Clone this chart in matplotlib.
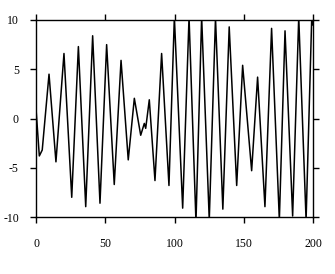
import matplotlib
matplotlib.use("Agg")
import matplotlib.pyplot as plt

# Turning points of the signal
x_vals = [0, 2.4, 4.5, 9.4, 14.4, 20.2, 25.8, 30.6, 35.9, 40.9, 46.2, 51.0, 56.5,
          61.4, 66.6, 71.0, 75.6, 78.2, 79.2, 81.8, 85.9, 90.7, 96.0, 99.9, 105.9,
          110.5, 115.5, 119.6, 125.1, 129.6, 134.9, 139.5, 144.9, 149.2, 155.7,
          160.0, 165.3, 170.1, 175.7, 179.8, 185.3, 189.7, 195.0, 199.1, 200]
y_vals = [1.0, -3.8, -3.2, 4.5, -4.4, 6.6, -8.0, 7.3, -8.95, 8.4, -8.6, 7.5, -6.7,
          5.9, -4.2, 2.05, -1.7, -0.5, -1.0, 1.9, -6.3, 6.6, -6.8, 10.3, -9.1,
          10.3, -10.5, 10.3, -10.3, 10.2, -9.2, 9.3, -6.8, 5.4, -5.3,
          4.2, -8.95, 9.15, -10.3, 8.9, -9.9, 10.3, -10.3, 10.3, 9.5]

x_ticks = [0, 50, 100, 150, 200]
y_ticks = [-10, -5, 0, 5, 10]
y_ticklabels = ["-10", "-5", "0", "5", "10"]

plt.rcParams['font.family'] = ['Liberation Serif', 'DejaVu Serif']

fig = plt.figure(figsize=(3.35, 2.74), dpi=100)
ax = fig.add_axes([36/335, 1 - 217/274, (313 - 36)/335, (217 - 20)/274])
ax.plot(x_vals, y_vals, color='black', lw=1.1)
ax.set_xlim(0, 200)
ax.set_ylim(-10, 10)
ax.set_xticks(x_ticks)
ax.set_yticks(y_ticks)
ax.set_yticklabels(y_ticklabels)
for s in ax.spines.values():
    s.set_linewidth(1.0)
    s.set_color('black')
ax.tick_params(direction='out', length=4.3, width=1.0, labelsize=8.5,
               top=True, right=True, labeltop=False, labelright=False)
ax.tick_params(axis='x', pad=11)
ax.tick_params(axis='y', pad=8)
fig.savefig("out.png", dpi=100)
